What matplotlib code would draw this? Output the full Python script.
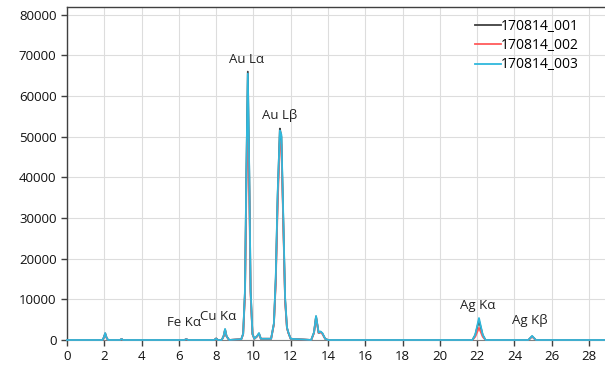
import matplotlib
matplotlib.use("Agg")
import matplotlib.pyplot as plt

plt.rcParams['font.family'] = ['Open Sans', 'DejaVu Sans']

# energy (keV) sample points
energy = [0.0, 1.9, 1.98, 2.05, 2.12, 2.2, 2.85, 2.93, 3.0, 6.3, 6.4, 6.5,
          7.9, 8.0, 8.1, 8.3, 8.4, 8.48, 8.56, 8.7, 9.35, 9.45, 9.55, 9.62,
          9.7, 9.78, 9.85, 9.95, 10.05, 10.2, 10.3, 10.4, 10.95, 11.1, 11.2,
          11.3, 11.42, 11.5, 11.6, 11.7, 11.8, 11.88, 12.0, 13.1, 13.25,
          13.36, 13.5, 13.6, 13.7, 13.85, 14.0, 21.75, 21.9, 22.1, 22.3,
          22.45, 24.75, 24.95, 25.15, 28.9]

counts_001 = [0, 0, 600, 1600, 600, 0, 0, 250, 0, 0, 200, 0,
              0, 400, 0, 0, 900, 2600, 900, 0, 200, 1500, 12000, 40000,
              66000, 40000, 12000, 1500, 300, 900, 1600, 300, 300, 4000, 15000,
              35000, 52000, 50000, 30000, 10000, 3000, 1700, 300, 0, 1800,
              5800, 1700, 2000, 1600, 300, 0, 0, 1200, 4800, 1200,
              0, 0, 900, 0, 0]

counts_002 = [0, 0, 600, 1600, 600, 0, 0, 250, 0, 0, 200, 0,
              0, 300, 0, 0, 900, 2500, 900, 0, 200, 1400, 11000, 36000,
              55000, 36000, 11000, 1400, 300, 900, 1500, 300, 300, 3800, 14000,
              33000, 49000, 48000, 29000, 9500, 2900, 1700, 300, 0, 1700,
              5600, 1700, 1900, 1500, 300, 0, 0, 800, 3000, 800,
              0, 0, 800, 0, 0]

counts_003 = [0, 0, 650, 1700, 650, 0, 0, 250, 0, 0, 200, 0,
              0, 300, 0, 0, 950, 2700, 950, 0, 200, 1500, 12500, 41000,
              65500, 41000, 12500, 1500, 300, 1000, 1700, 300, 300, 4100, 15500,
              36000, 51500, 50500, 31000, 10500, 3100, 1800, 300, 0, 1900,
              5900, 1800, 2100, 1700, 300, 0, 0, 1300, 5400, 1300,
              0, 0, 1000, 0, 0]

series = [("170814_001", counts_001, "#404040"),
          ("170814_002", counts_002, "#ff5a5a"),
          ("170814_003", counts_003, "#2fb8dc")]

peak_labels = ["Fe K\u03b1", "Cu K\u03b1", "Au L\u03b1", "Au L\u03b2", "Ag K\u03b1", "Ag K\u03b2"]
label_x = [6.28, 8.1, 9.65, 11.43, 22.05, 24.85]
label_y = [4200, 5700, 69000, 55200, 8600, 4900]

fig = plt.figure(figsize=(6.05, 3.69), dpi=100)
ax = fig.add_axes([0.1107, 0.0786, 0.8893, 0.9014])

for name, counts, color in series:
    ax.plot(energy, counts, color=color, lw=1.3, label=name, clip_on=False,
            zorder=3)

for txt, x, y in zip(peak_labels, label_x, label_y):
    ax.text(x, y, txt, ha="center", va="center", fontsize=9.5, color="#222222")

ax.set_xlim(0, 28.86)
ax.set_ylim(0, 81800)
ax.set_xticks(range(0, 29, 2))
ax.set_yticks(range(0, 80001, 10000))
ax.grid(True, color="#dddddd", lw=0.8)
ax.set_axisbelow(True)

for side in ["left", "top"]:
    ax.spines[side].set_color("#404040")
    ax.spines[side].set_linewidth(1.0)
ax.spines["right"].set_visible(False)
ax.spines["bottom"].set_color("#808080")
ax.spines["bottom"].set_zorder(1)
ax.tick_params(axis="both", labelsize=9.5, color="#404040", length=4, width=1.0,
               labelcolor="#111111")
ax.tick_params(axis="x", pad=3)

leg = ax.legend(loc="upper right", frameon=False, fontsize=10, handlelength=1.9,
                handletextpad=0.0, labelspacing=0.3, borderaxespad=0.2,
                bbox_to_anchor=(0.967, 0.99))
for line in leg.get_lines():
    line.set_linewidth(1.3)

plt.savefig("out.png", dpi=100)
plt.close()
